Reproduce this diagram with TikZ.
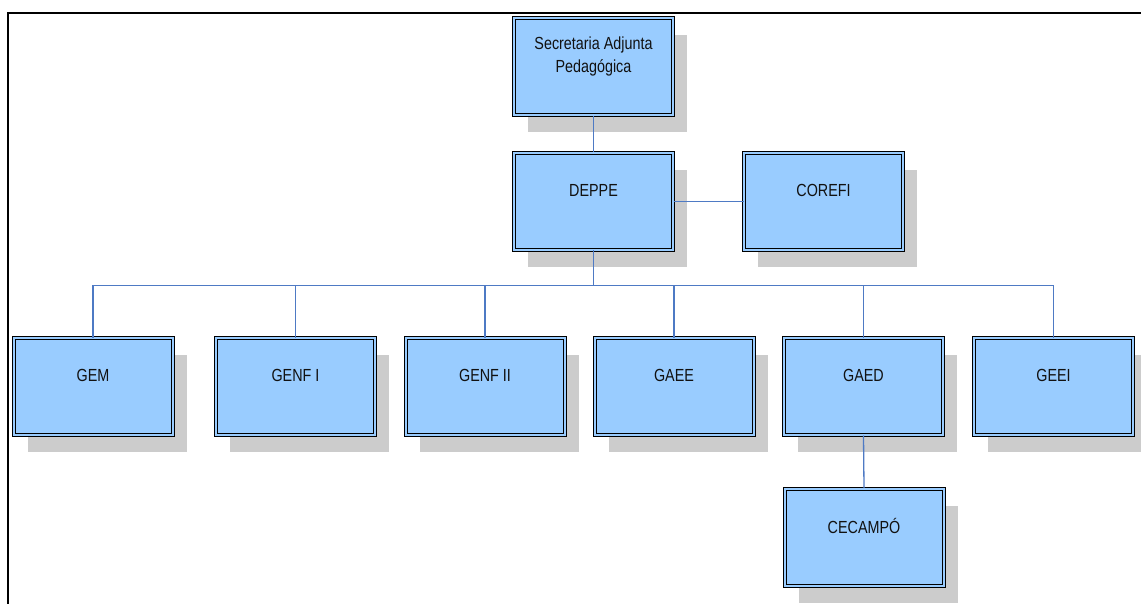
\documentclass[tikz,border=0pt]{standalone}
\usepackage{fontspec}
\setmainfont{Liberation Sans}[FakeStretch=0.82]
\usetikzlibrary{shadows}
\definecolor{boxfill}{HTML}{99CCFF}
\definecolor{shadowgray}{HTML}{CCCCCC}
\definecolor{linkblue}{RGB}{78,122,196}
\definecolor{txt}{HTML}{111111}
\tikzset{
  orgbox/.style={rectangle, draw=black, line width=1pt, double=boxfill, double distance=2pt,
    fill=boxfill, minimum width=159pt, minimum height=97pt, inner sep=0pt,
    drop shadow={shadow xshift=14pt, shadow yshift=-17pt, fill=shadowgray, opacity=1}},
  orgtext/.style={font=\fontsize{17.5}{23}\selectfont, text=txt, align=center, inner sep=0pt},
  link/.style={draw=linkblue, line width=1.3pt},
  frameline/.style={draw=black, line width=2pt}
}
\newcommand{\obox}[4]{%
  \node[orgbox] (#1) at (#2,#3) {};
  \node[orgtext] (#1t) at ([yshift=11pt]#1.center) {#4};
}
\begin{document}
\begin{tikzpicture}[x=1pt,y=-1pt]
\useasboundingbox (0,0) rectangle (1141,604);
\draw[frameline] (7.5,604) -- (7.5,13) -- (1141,13);
\obox{sap}{593.5}{67}{Secretaria Adjunta\\Pedagógica}
\obox{deppe}{593.5}{201.5}{DEPPE}
\obox{corefi}{823.5}{201.5}{COREFI}
\obox{gem}{93}{386.5}{GEM}
\obox{genfi}{295.5}{386.5}{GENF I}
\obox{genfii}{485}{386.5}{GENF II}
\obox{gaee}{674}{386.5}{GAEE}
\obox{gaed}{863.5}{386.5}{GAED}
\obox{geei}{1053.5}{386.5}{GEEI}
\obox{cecampo}{864}{537}{CECAMPÓ}
\coordinate (bus) at (593.5,285.5);
\path[link] (sap.south) -- (deppe.north);
\path[link] (deppe.east) -- (corefi.west);
\path[link] (deppe.south) -- (bus);
\path[link] (gem.north) |- (bus) -| (geei.north);
\foreach \n in {genfi,genfii,gaee,gaed}{\path[link] (\n.north) -- (\n.north |- bus);}
\path[link] (gaed.south) -- (cecampo.north);
\end{tikzpicture}
\end{document}
